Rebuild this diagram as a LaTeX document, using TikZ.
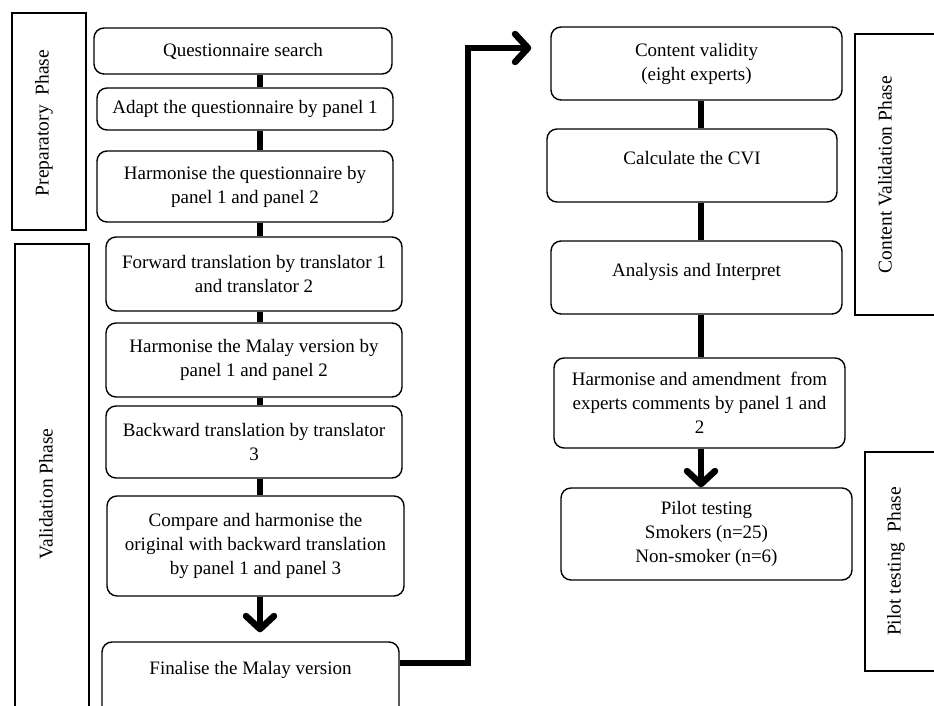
\documentclass[tikz,border=0pt]{standalone}
\usepackage{fontspec}
\setmainfont{Liberation Serif}
\usetikzlibrary{arrows.meta}
\begin{document}
\begin{tikzpicture}[x=1pt,y=-1pt,
  box/.style={draw, line width=1.4pt, rounded corners=10pt, align=center,
    font=\fontsize{19}{24}\selectfont, inner sep=2pt},
  phasebox/.style={draw, line width=1.4pt, inner sep=0pt},
  phasetext/.style={rotate=90, font=\fontsize{19.5}{24}\selectfont, inner sep=0pt},
  link/.style={line width=6.5pt},
  arr/.style={line width=6.5pt, -{Straight Barb[length=13pt,width=28pt,round]}},
  elbow/.style={line width=6.5pt, line join=miter, -{Straight Barb[length=13pt,width=28pt,round]}}
]
\useasboundingbox (0,0) rectangle (934,706);
\clip (0,0) rectangle (934,706);
\coordinate (lx) at (260,0);
\coordinate (rx) at (701,0);
\coordinate (bend) at (468,48);

% phase boxes
\node[phasebox, minimum width=74pt, minimum height=217pt] (pp) at (49,121.5) {};
\node[phasetext] (ppt) at (44,123) {Preparatory\ \ Phase};
\node[phasebox, minimum width=74pt, minimum height=520pt] (vp) at (52,504) {};
\node[phasetext] (vpt) at (46,494) {Validation Phase};
\node[phasebox, minimum width=90pt, minimum height=281pt] (cp) at (900,174.5) {};
\node[phasetext] (cpt) at (885,174.5) {Content Validation Phase};
\node[phasebox, minimum width=80pt, minimum height=219pt] (tp) at (905,561.5) {};
\node[phasetext] (tpt) at (896,561.5) {Pilot testing\ \ Phase};

% left column
\node[box, minimum width=298pt, minimum height=46pt] (q1) at (243,51) {Questionnaire search};
\node[box, minimum width=296pt, minimum height=42pt] (q2) at (245,109) {Adapt the questionnaire by panel 1};
\node[box, minimum width=296pt, minimum height=71pt] (q3) at (245,186.5) {Harmonise the questionnaire by\\panel 1 and panel 2};
\node[box, minimum width=296pt, minimum height=74pt] (q4) at (254,274) {Forward translation by translator 1\\and translator 2};
\node[box, minimum width=296pt, minimum height=74pt] (q5) at (254,360) {Harmonise the Malay version by\\panel 1 and panel 2};
\node[box, minimum width=296pt, minimum height=72pt] (q6) at (254,442) {Backward translation by translator\\3};
\node[box, minimum width=297pt, minimum height=100pt] (q7) at (255.5,546) {Compare and harmonise the\\original with backward translation\\by panel 1 and panel 3};
\node[box, minimum width=297pt, minimum height=78pt, text depth=26pt] (q8) at (250.5,681) {Finalise the Malay version};

% right column
\node[box, minimum width=291pt, minimum height=73pt] (r1) at (696.5,63.5) {Content validity\\(eight experts)};
\node[box, minimum width=290pt, minimum height=73pt, text depth=15pt] (r2) at (692,165.5) {Calculate the CVI};
\node[box, minimum width=291pt, minimum height=73pt, text depth=15pt] (r3) at (696.5,277.5) {Analysis and Interpret};
\node[box, minimum width=291pt, minimum height=90pt] (r4) at (699.5,403) {Harmonise and amendment\ \ from\\experts comments by panel 1 and\\2};
\node[box, minimum width=291pt, minimum height=92pt] (r5) at (706.5,534) {Pilot testing\\Smokers (n=25)\\Non-smoker (n=6)};

% connectors left
\draw[link] (q1.south -| lx) -- (q2.north -| lx);
\draw[link] (q2.south -| lx) -- (q3.north -| lx);
\draw[link] (q3.south -| lx) -- (q4.north -| lx);
\draw[link] (q4.south -| lx) -- (q5.north -| lx);
\draw[link] (q5.south -| lx) -- (q6.north -| lx);
\draw[link] (q6.south -| lx) -- (q7.north -| lx);
\draw[arr, shorten >=9pt] (q7.south -| lx) -- (q8.north -| lx);

% connectors right
\draw[link] (r1.south -| rx) -- (r2.north -| rx);
\draw[link] (r2.south -| rx) -- (r3.north -| rx);
\draw[link] (r3.south -| rx) -- (r4.north -| rx);
\draw[arr] (r4.south -| rx) -- (r5.north -| rx);

% elbow connector
\draw[elbow, shorten >=19pt] ([yshift=18pt]q8.east) -| (bend) -- ([yshift=15.5pt]r1.west);
\end{tikzpicture}
\end{document}
